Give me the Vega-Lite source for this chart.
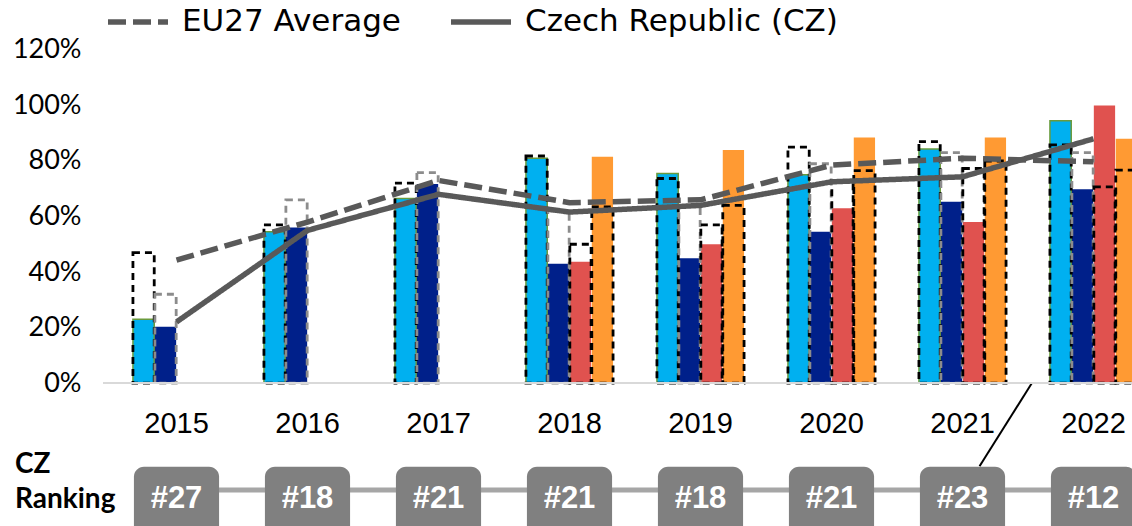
{
  "$schema": "https://vega.github.io/schema/vega-lite/v6.json",
  "width": 1029,
  "height": 526,
  "autosize": {"type": "none"},
  "padding": {"left": 103, "top": 0, "right": 0, "bottom": 0},
  "background": "white",
  "config": {"view": {"stroke": null}, "font": "Lato"},
  "datasets": {
    "bars": [
      {"year": "2015", "indicator": "Ind1", "value": 0.23, "eu": 0.47},
      {"year": "2015", "indicator": "Ind2", "value": 0.203, "eu": 0.32},
      {"year": "2016", "indicator": "Ind1", "value": 0.545, "eu": 0.57},
      {"year": "2016", "indicator": "Ind2", "value": 0.56, "eu": 0.66},
      {"year": "2017", "indicator": "Ind1", "value": 0.665, "eu": 0.72},
      {"year": "2017", "indicator": "Ind2", "value": 0.717, "eu": 0.758},
      {"year": "2018", "indicator": "Ind1", "value": 0.81, "eu": 0.818},
      {"year": "2018", "indicator": "Ind2", "value": 0.43, "eu": 0.62},
      {"year": "2018", "indicator": "Ind3", "value": 0.437, "eu": 0.5},
      {"year": "2018", "indicator": "Ind4", "value": 0.815, "eu": 0.635},
      {"year": "2019", "indicator": "Ind1", "value": 0.755, "eu": 0.737},
      {"year": "2019", "indicator": "Ind2", "value": 0.45, "eu": 0.64},
      {"year": "2019", "indicator": "Ind3", "value": 0.5, "eu": 0.57},
      {"year": "2019", "indicator": "Ind4", "value": 0.84, "eu": 0.64},
      {"year": "2020", "indicator": "Ind1", "value": 0.75, "eu": 0.85},
      {"year": "2020", "indicator": "Ind2", "value": 0.545, "eu": 0.79},
      {"year": "2020", "indicator": "Ind3", "value": 0.63, "eu": 0.73},
      {"year": "2020", "indicator": "Ind4", "value": 0.885, "eu": 0.765},
      {"year": "2021", "indicator": "Ind1", "value": 0.843, "eu": 0.87},
      {"year": "2021", "indicator": "Ind2", "value": 0.653, "eu": 0.83},
      {"year": "2021", "indicator": "Ind3", "value": 0.58, "eu": 0.773},
      {"year": "2021", "indicator": "Ind4", "value": 0.885, "eu": 0.8},
      {"year": "2022", "indicator": "Ind1", "value": 0.945, "eu": 0.858},
      {"year": "2022", "indicator": "Ind2", "value": 0.698, "eu": 0.83},
      {"year": "2022", "indicator": "Ind3", "value": 1.0, "eu": 0.707},
      {"year": "2022", "indicator": "Ind4", "value": 0.88, "eu": 0.767}
    ],
    "lines": [
      {"year": "2015", "series": "EU27 Average", "value": 0.443},
      {"year": "2016", "series": "EU27 Average", "value": 0.58},
      {"year": "2017", "series": "EU27 Average", "value": 0.73},
      {"year": "2018", "series": "EU27 Average", "value": 0.65},
      {"year": "2019", "series": "EU27 Average", "value": 0.66},
      {"year": "2020", "series": "EU27 Average", "value": 0.785},
      {"year": "2021", "series": "EU27 Average", "value": 0.81},
      {"year": "2022", "series": "EU27 Average", "value": 0.797},
      {"year": "2015", "series": "Czech Republic (CZ)", "value": 0.22},
      {"year": "2016", "series": "Czech Republic (CZ)", "value": 0.55},
      {"year": "2017", "series": "Czech Republic (CZ)", "value": 0.68},
      {"year": "2018", "series": "Czech Republic (CZ)", "value": 0.616},
      {"year": "2019", "series": "Czech Republic (CZ)", "value": 0.64},
      {"year": "2020", "series": "Czech Republic (CZ)", "value": 0.725},
      {"year": "2021", "series": "Czech Republic (CZ)", "value": 0.743},
      {"year": "2022", "series": "Czech Republic (CZ)", "value": 0.88}
    ],
    "rank": [
      {"year": "2015", "label": "#27"},
      {"year": "2016", "label": "#18"},
      {"year": "2017", "label": "#21"},
      {"year": "2018", "label": "#21"},
      {"year": "2019", "label": "#18"},
      {"year": "2020", "label": "#21"},
      {"year": "2021", "label": "#23"},
      {"year": "2022", "label": "#12"}
    ],
    "annot": [{"from": "2022", "to": "2021"}],
    "side": [{"year": "2015"}]
  },
  "layer": [
    {
      "data": {"name": "bars"},
      "mark": {"type": "bar", "strokeWidth": 1.5},
      "encoding": {
        "x": {"field": "year", "type": "nominal", "axis": null,
              "scale": {"domain": ["2015","2016","2017","2018","2019","2020","2021","2022"], "range": [8, 1056], "paddingInner": 0, "paddingOuter": 0}},
        "xOffset": {"field": "indicator", "type": "nominal",
                    "scale": {"domain": ["Ind1","Ind2","Ind3","Ind4"], "paddingInner": 0.03, "paddingOuter": 1.08}},
        "y": {"field": "value", "type": "quantitative",
              "scale": {"domain": [-0.515, 1.38], "nice": false, "zero": false},
              "axis": {"values": [0, 0.2, 0.4, 0.6, 0.8, 1, 1.2], "format": ".0%", "grid": false, "domain": false, "ticks": false, "tickSize": 0, "labelPadding": 22, "labelFontSize": 27, "labelFont": "Lato", "labelColor": "#000000", "title": null}},
        "color": {"field": "indicator", "type": "nominal", "legend": null,
                  "scale": {"domain": ["Ind1","Ind2","Ind3","Ind4"], "range": ["#00B0F0", "#00208A", "#E0524F", "#FF9A33"]}},
        "stroke": {"condition": {"test": "datum.indicator === 'Ind1'", "value": "#6a9a3c"}, "value": "transparent"}
      }
    },
    {
      "data": {"name": "bars"},
      "mark": {"type": "bar", "fill": "#ffffff", "fillOpacity": 0, "strokeWidth": 2.8, "strokeDash": [7, 5]},
      "encoding": {
        "x": {"field": "year", "type": "nominal", "axis": null},
        "xOffset": {"field": "indicator", "type": "nominal"},
        "y": {"field": "eu", "type": "quantitative"},
        "stroke": {"condition": {"test": "datum.indicator === 'Ind2'", "value": "#8c8c8c"}, "value": "#000000"}
      }
    },
    {
      "data": {"name": "annot"},
      "mark": {"type": "rule", "color": "#000000", "strokeWidth": 2},
      "encoding": {
        "x": {"field": "from", "type": "nominal", "axis": null, "bandPosition": 0.03},
        "x2": {"field": "to", "bandPosition": 0.63},
        "y": {"datum": 0},
        "y2": {"datum": -0.3}
      }
    },
    {
      "data": {"name": "rank"},
      "mark": {"type": "rule", "color": "#d9d9d9", "strokeWidth": 2},
      "encoding": {"y": {"datum": 0}}
    },
    {
      "data": {"name": "lines"},
      "mark": {"type": "line", "color": "#595959", "strokeWidth": 5.5, "strokeCap": "butt"},
      "encoding": {
        "x": {"field": "year", "type": "nominal", "axis": null},
        "y": {"field": "value", "type": "quantitative"},
        "strokeDash": {"field": "series", "type": "nominal",
          "scale": {"domain": ["EU27 Average", "Czech Republic (CZ)"], "range": [[18, 7], [1, 0]]},
          "legend": {"title": null, "orient": "none", "legendX": 2, "legendY": -11, "direction": "horizontal",
                     "symbolType": "stroke", "symbolSize": 3600, "symbolStrokeWidth": 5.5, "symbolStrokeColor": "#595959",
                     "labelFont": "DejaVu Sans", "labelFontSize": 31, "labelColor": "#000000", "labelOffset": 11, "labelLimit": 1000, "columnPadding": 39, "padding": 0}}
      }
    },
    {
      "data": {"name": "rank"},
      "mark": {"type": "line", "color": "#a6a6a6", "strokeWidth": 5},
      "encoding": {
        "x": {"field": "year", "type": "nominal", "axis": null},
        "y": {"datum": -0.385}
      }
    },
    {
      "data": {"name": "rank"},
      "mark": {"type": "bar", "color": "#808080", "cornerRadius": 10, "width": {"band": 0.65}},
      "encoding": {
        "x": {"field": "year", "type": "nominal", "axis": null},
        "y": {"datum": -0.3015},
        "y2": {"datum": -0.7}
      }
    },
    {
      "data": {"name": "rank"},
      "mark": {"type": "text", "color": "#ffffff", "font": "Liberation Sans", "fontWeight": "bold", "fontSize": 31, "baseline": "alphabetic", "align": "center"},
      "encoding": {
        "x": {"field": "year", "type": "nominal", "axis": null},
        "y": {"datum": -0.45},
        "text": {"field": "label"}
      }
    },
    {
      "data": {"name": "rank"},
      "mark": {"type": "text", "color": "#000000", "font": "Liberation Sans", "fontSize": 29, "baseline": "alphabetic", "align": "center"},
      "encoding": {
        "x": {"field": "year", "type": "nominal", "axis": null},
        "y": {"datum": -0.181},
        "text": {"field": "year"}
      }
    },
    {
      "data": {"name": "side"},
      "mark": {"type": "text", "color": "#000000", "font": "Lato", "fontWeight": "bold", "fontSize": 28, "baseline": "alphabetic", "align": "left", "dx": -161.5},
      "encoding": {
        "x": {"field": "year", "type": "nominal", "axis": null},
        "y": {"datum": -0.324},
        "text": {"value": "CZ"}
      }
    },
    {
      "data": {"name": "side"},
      "mark": {"type": "text", "color": "#000000", "font": "Lato", "fontWeight": "bold", "fontSize": 28, "baseline": "alphabetic", "align": "left", "dx": -161.5},
      "encoding": {
        "x": {"field": "year", "type": "nominal", "axis": null},
        "y": {"datum": -0.45},
        "text": {"value": "Ranking"}
      }
    }
  ]
}
